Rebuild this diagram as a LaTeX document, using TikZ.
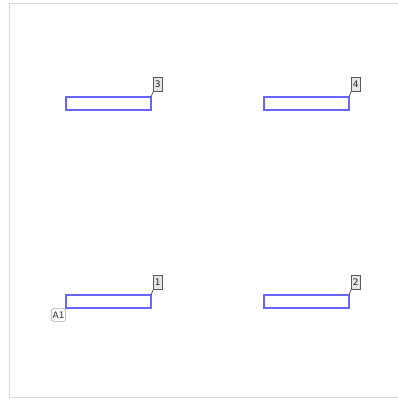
\documentclass[tikz,border=0pt]{standalone}
\usepackage{fontspec}
\setmainfont{DejaVu Sans}
\begin{document}
\begin{tikzpicture}[x=1pt,y=-1pt,
  pad/.style={draw=blue!60!white, line width=1.3pt, fill=white},
  tag/.style={draw=black!65, fill=black!10, line width=0.7pt, inner sep=0.5pt, minimum width=9pt, minimum height=14pt, font=\fontsize{9}{10}\selectfont, text=black!85},
  reftag/.style={draw=black!35, fill=white, line width=0.6pt, rounded corners=2.5pt, inner sep=1.2pt, minimum height=13pt, font=\fontsize{9}{10}\selectfont, text=black!80},
  lead/.style={draw=black!70, line width=0.7pt}]
\useasboundingbox (0,0) rectangle (397,403);
\draw[black!15, line width=1.5pt] (9.5,3.5) rectangle (400,397.5);
% pads
\draw[pad] (66,295) rectangle (151,308);
\draw[pad] (264,295) rectangle (349,308);
\draw[pad] (66,97) rectangle (151,110);
\draw[pad] (264,97) rectangle (349,110);
\coordinate (p1) at (151,295);
\coordinate (p2) at (349,295);
\coordinate (p3) at (151,97);
\coordinate (p4) at (349,97);
\node[tag, anchor=south west] (t1) at (153,290) {1};
\node[tag, anchor=south west] (t2) at (351,290) {2};
\node[tag, anchor=south west] (t3) at (153,92) {3};
\node[tag, anchor=south west] (t4) at (351,92) {4};
\draw[lead] (p1) -- (t1.south west);
\draw[lead] (p2) -- (t2.south west);
\draw[lead] (p3) -- (t3.south west);
\draw[lead] (p4) -- (t4.south west);
\node[reftag, anchor=north east] (a1) at (66,308) {A1};
\end{tikzpicture}
\end{document}
